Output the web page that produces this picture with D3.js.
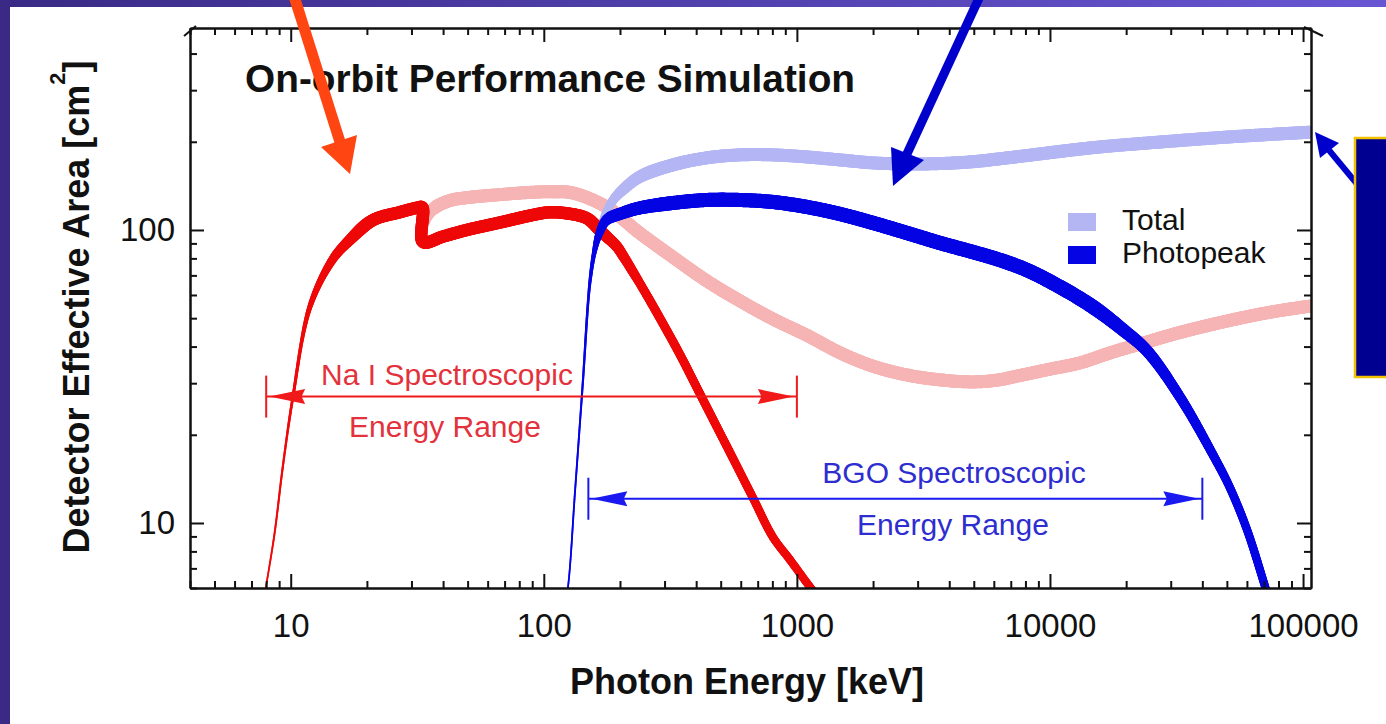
<!DOCTYPE html>
<html>
<head>
<meta charset="utf-8">
<script src="https://cdn.jsdelivr.net/npm/d3@7"></script>
<style>
  html, body { margin: 0; padding: 0; background: #ffffff; }
  svg { display: block; font-family: "Liberation Sans", Arial, Helvetica, sans-serif; }
</style>
</head>
<body>
<svg id="chart" width="1386" height="724"></svg>
<script>
// Photon energy in keV, detector effective area in cm^2

// NaI photopeak
const naiPhotoE = [7.8, 8.6, 9.3, 10.2, 11.9, 14.6, 17.1, 21.1, 27.0, 31.5,
                   33.1, 33.3, 40, 49.6, 67, 90.5, 106, 123, 143, 152,
                   166, 177, 194, 205, 239, 280, 345, 403, 466, 544,
                   670, 804, 938, 1125, 1250];
const naiPhotoA = [5.4, 9.0, 15.5, 26.9, 54.6, 79, 92.4, 108, 115, 119,
                   119.5, 91, 95, 100, 106, 112.5, 115, 114, 111, 108,
                   100, 95, 88, 82, 66, 52.1, 37.6, 28.9, 22.6, 17.4,
                   12.2, 8.95, 7.5, 6.06, 5.4];

// NaI total
const naiTotalE = [33.4, 35, 37, 42.5, 50, 67, 90, 110, 130, 177,
                   239, 323, 441, 595, 804, 1096, 1480, 1997, 2722, 3675,
                   5000, 6300, 7145, 10000, 13150, 18000, 23350, 32000, 50100, 75000,
                   107000];
const naiTotalA = [100, 112, 119, 126, 129, 132, 134.5, 135, 133.8, 119.8,
                   97.7, 80.9, 67.0, 57.3, 49.7, 43.7, 38.1, 34.3, 32.0, 30.8,
                   30.3, 30.8, 31.5, 33.5, 35.2, 38.5, 41.1, 44.5, 48.9, 52.5,
                   55];

// BGO photopeak
const bgoPhotoE = [118, 124.5, 133, 142.6, 152, 159, 166, 177, 205, 239,
                   323, 441, 595, 804, 1096, 1480, 2000, 2720, 3675, 4960,
                   6340, 8110, 10960, 14800, 19450, 24170, 32640, 44060, 51400, 60100,
                   70800, 76000];
const bgoPhotoA = [4.6, 6.0, 13, 30.1, 65.9, 85.4, 97.7, 108.2, 114.3, 118.9,
                   123.6, 126.6, 126.6, 124.6, 119.8, 113.4, 105.7, 97.7, 90.3, 84.1,
                   79, 73, 63.9, 54.6, 45.6, 38.7, 26.9, 17.1, 13.2, 9.47,
                   6.06, 4.95];

// BGO total
const bgoTotalE = [159, 166, 177, 190, 205, 239, 323, 441, 595, 804,
                   1096, 1480, 2000, 2700, 3675, 4960, 6340, 8110, 14800, 27200,
                   50100, 107000];
const bgoTotalA = [85.4, 100, 116, 128, 137, 151.8, 166.7, 176.3, 180.4, 180.4,
                   177.5, 173.4, 169.4, 168, 168.5, 171, 175, 179.5, 191, 199.6,
                   207.5, 215.7];

// Axis ticks
const xMajorTicks = [10, 100, 1000, 10000, 100000];
const xTickLabels = ["10", "100", "1000", "10000", "100000"];
const yMajorTicks = [10, 100];
const yTickLabels = ["10", "100"];

// Spectroscopic energy ranges (keV) and the area level where each is marked
const naiRange = [8, 1000];
const naiRangeLevel = 27;
const bgoRange = [150, 40000];
const bgoRangeLevel = 12.1;

const legendLabels = ["Total", "Photopeak"];

// ---------------------------------------------------------------------------
const svg = d3.select("#chart");
const W = 1386, H = 724;
const plotL = 190, plotR = 1311, plotT = 28, plotB = 588;

const colors = {
  naiPhoto: "#ee0808",
  naiTotal: "#f6b4b4",
  bgoPhoto: "#0404e4",
  bgoTotal: "#b4b6f4",
  ink: "#111111"
};

const x = d3.scaleLog().domain([4, 107500]).range([plotL, plotR]);
const y = d3.scaleLog().domain([6, 489]).range([plotB, plotT]);

// slide background
const defs = svg.append("defs");
const grad = defs.append("linearGradient").attr("id", "topbar")
  .attr("x1", "0%").attr("x2", "100%").attr("y1", "0%").attr("y2", "0%");
grad.append("stop").attr("offset", "0%").attr("stop-color", "#3a2a86");
grad.append("stop").attr("offset", "100%").attr("stop-color", "#6656d2");

svg.append("rect").attr("width", W).attr("height", H).attr("fill", "#ffffff");
svg.append("rect").attr("x", 0).attr("y", 0).attr("width", W).attr("height", 7).attr("fill", "url(#topbar)");
svg.append("rect").attr("x", 0).attr("y", 0).attr("width", 10).attr("height", H).attr("fill", "#3a2a86");

defs.append("clipPath").attr("id", "plotClip")
  .append("rect").attr("x", plotL).attr("y", plotT)
  .attr("width", plotR - plotL).attr("height", plotB - plotT);

const plot = svg.append("g").attr("clip-path", "url(#plotClip)");

// Draws a curve as a band whose thickness varies with energy
function drawBand(E, A, color, stops) {
  const pts = E.map((e, i) => [x(e), y(A[i])]);
  const d = d3.line().curve(d3.curveCatmullRom.alpha(0.5))(pts);
  const tmp = plot.append("path").attr("d", d).attr("fill", "none").attr("stroke", "none");
  const node = tmp.node();
  const L = node.getTotalLength();
  const samples = [];
  for (let s = 0; s < L; s += 1.5) {
    const p = node.getPointAtLength(s);
    samples.push([p.x, p.y]);
  }
  const pe = node.getPointAtLength(L);
  samples.push([pe.x, pe.y]);
  tmp.remove();

  const widthAt = d3.scaleLinear()
    .domain(stops.map(s => Math.log10(s[0])))
    .range(stops.map(s => s[1]))
    .clamp(true);

  const g = plot.append("g")
    .attr("stroke", color)
    .attr("stroke-linecap", "round");
  for (let i = 0; i < samples.length - 1; i++) {
    const a = samples[i], b = samples[i + 1];
    const e = x.invert((a[0] + b[0]) / 2);
    g.append("line")
      .attr("x1", a[0]).attr("y1", a[1])
      .attr("x2", b[0]).attr("y2", b[1])
      .attr("stroke-width", widthAt(Math.log10(e)));
  }
}

drawBand(naiTotalE, naiTotalA, colors.naiTotal, [[33.4, 7], [37, 13], [110000, 13]]);
drawBand(bgoTotalE, bgoTotalA, colors.bgoTotal, [[159, 4], [177, 8], [205, 11], [260, 13], [110000, 13]]);
drawBand(naiPhotoE, naiPhotoA, colors.naiPhoto,
  [[7.8, 1.6], [9.5, 2.2], [11, 3.5], [12.5, 6], [15, 9], [19, 12.5], [160, 12.5], [240, 9], [1300, 8]]);
drawBand(bgoPhotoE, bgoPhotoA, colors.bgoPhoto,
  [[118, 1.6], [140, 2], [150, 2.6], [158, 4.5], [166, 8], [185, 12], [300, 14],
   [15000, 14.5], [30000, 10.5], [50000, 8.5], [80000, 8]]);

// Axes
const xMinor = x.ticks().filter(v => Math.abs(Math.log10(v) - Math.round(Math.log10(v))) > 1e-6);
const yMinor = y.ticks().filter(v => Math.abs(Math.log10(v) - Math.round(Math.log10(v))) > 1e-6);

function styleAxis(g) {
  g.select(".domain").attr("stroke", colors.ink).attr("stroke-width", 2);
  g.selectAll(".tick line").attr("stroke", colors.ink).attr("stroke-width", 2);
  g.selectAll(".tick text").attr("fill", colors.ink)
    .attr("font-size", 33).attr("font-family", "'Liberation Sans', Arial, sans-serif");
}

const axes = svg.append("g");
axes.append("g").attr("transform", `translate(0,${plotB})`)
  .call(d3.axisBottom(x).tickValues(xMinor).tickFormat("").tickSizeInner(-7).tickSizeOuter(0)).call(styleAxis);
axes.append("g").attr("transform", `translate(0,${plotB})`)
  .call(d3.axisBottom(x).tickValues(xMajorTicks).tickFormat((d, i) => xTickLabels[i])
    .tickSizeInner(-14).tickSizeOuter(0).tickPadding(26)).call(styleAxis);

axes.append("g").attr("transform", `translate(0,${plotT})`)
  .call(d3.axisTop(x).tickValues(xMinor).tickFormat("").tickSizeInner(-7).tickSizeOuter(0)).call(styleAxis);
axes.append("g").attr("transform", `translate(0,${plotT})`)
  .call(d3.axisTop(x).tickValues(xMajorTicks).tickFormat("").tickSizeInner(-14).tickSizeOuter(0)).call(styleAxis);

axes.append("g").attr("transform", `translate(${plotL},0)`)
  .call(d3.axisLeft(y).tickValues(yMinor).tickFormat("").tickSizeInner(-7).tickSizeOuter(0)).call(styleAxis);
axes.append("g").attr("transform", `translate(${plotL},0)`)
  .call(d3.axisLeft(y).tickValues(yMajorTicks).tickFormat((d, i) => yTickLabels[i])
    .tickSizeInner(-14).tickSizeOuter(0).tickPadding(15)).call(styleAxis);

axes.append("g").attr("transform", `translate(${plotR},0)`)
  .call(d3.axisRight(y).tickValues(yMinor).tickFormat("").tickSizeInner(-7).tickSizeOuter(0)).call(styleAxis);
axes.append("g").attr("transform", `translate(${plotR},0)`)
  .call(d3.axisRight(y).tickValues(yMajorTicks).tickFormat("").tickSizeInner(-14).tickSizeOuter(0)).call(styleAxis);

// axis break marks at the top corners
axes.append("line").attr("x1", plotL - 6).attr("y1", plotT + 8).attr("x2", plotL + 6).attr("y2", plotT - 2)
  .attr("stroke", colors.ink).attr("stroke-width", 2);
axes.append("line").attr("x1", plotR - 7).attr("y1", plotT - 1).attr("x2", plotR + 12).attr("y2", plotT + 8)
  .attr("stroke", colors.ink).attr("stroke-width", 2);

// Axis titles
svg.append("text")
  .attr("x", 747).attr("y", 694)
  .attr("text-anchor", "middle")
  .attr("font-size", 36).attr("font-weight", "bold").attr("fill", colors.ink)
  .text("Photon Energy [keV]");

const yTitle = svg.append("text")
  .attr("transform", "translate(89,307) rotate(-90)")
  .attr("text-anchor", "middle")
  .attr("font-size", 36).attr("font-weight", "bold").attr("fill", colors.ink);
yTitle.append("tspan").text("Detector Effective Area [cm");
yTitle.append("tspan").attr("font-size", 22).attr("dy", -24).text("2");
yTitle.append("tspan").attr("dy", 24).text("]");

// Chart title
svg.append("text")
  .attr("x", 245).attr("y", 92)
  .attr("font-size", 38.8).attr("font-weight", "bold").attr("fill", colors.ink)
  .text("On-orbit Performance Simulation");

// Legend
const legend = svg.append("g");
const legendColors = [colors.bgoTotal, colors.bgoPhoto];
const legendY = [213, 246];
legendLabels.forEach((lab, i) => {
  legend.append("rect").attr("x", 1068).attr("y", legendY[i]).attr("width", 28).attr("height", 18)
    .attr("fill", legendColors[i]);
  legend.append("text").attr("x", 1122).attr("y", legendY[i] + 17)
    .attr("font-size", 30).attr("fill", colors.ink).text(lab);
});

// Spectroscopic range markers
function rangeMarker(range, level, lineColor, textColor, lines, textX, textYs) {
  const g = svg.append("g");
  const x0 = x(range[0]), x1 = x(range[1]), yy = y(level);
  g.append("line").attr("x1", x0).attr("x2", x1).attr("y1", yy).attr("y2", yy)
    .attr("stroke", lineColor).attr("stroke-width", 2);
  [x0, x1].forEach(xx => {
    g.append("line").attr("x1", xx).attr("x2", xx).attr("y1", yy - 21).attr("y2", yy + 21)
      .attr("stroke", lineColor).attr("stroke-width", 2);
  });
  const hl = 36, hw = 7.5;
  g.append("path").attr("fill", lineColor)
    .attr("d", `M${x0 + 3},${yy} L${x0 + 3 + hl},${yy - hw} L${x0 + 3 + hl * 0.9},${yy} L${x0 + 3 + hl},${yy + hw} Z`);
  g.append("path").attr("fill", lineColor)
    .attr("d", `M${x1 - 3},${yy} L${x1 - 3 - hl},${yy - hw} L${x1 - 3 - hl * 0.9},${yy} L${x1 - 3 - hl},${yy + hw} Z`);
  lines.forEach((t, i) => {
    g.append("text").attr("x", textX[i]).attr("y", textYs[i])
      .attr("text-anchor", "middle").attr("font-size", 30).attr("fill", textColor).text(t);
  });
}

rangeMarker(naiRange, naiRangeLevel, "#f01a1a", "#e3323c",
  ["Na I Spectroscopic", "Energy Range"], [447, 445], [385, 437]);
rangeMarker(bgoRange, bgoRangeLevel, "#1a1af0", "#2e2ed0",
  ["BGO Spectroscopic", "Energy Range"], [954, 953], [483, 535]);

// Slide call-out arrows and side panel
const ann = svg.append("g");
ann.append("line").attr("x1", 294).attr("y1", -4).attr("x2", 340).attr("y2", 142)
  .attr("stroke", "#ff4512").attr("stroke-width", 11);
ann.append("polygon").attr("points", "350,174 321,147 357,135").attr("fill", "#ff4512");

ann.append("line").attr("x1", 980).attr("y1", -4).attr("x2", 906).attr("y2", 156)
  .attr("stroke", "#0000cc").attr("stroke-width", 9);
ann.append("polygon").attr("points", "893,186 891,147 924,160").attr("fill", "#0000cc");

ann.append("line").attr("x1", 1328).attr("y1", 149).attr("x2", 1362).attr("y2", 190)
  .attr("stroke", "#0000cc").attr("stroke-width", 6);
ann.append("polygon").attr("points", "1315,132 1320,158 1339,143").attr("fill", "#0000cc");

ann.append("rect").attr("x", 1355).attr("y", 138).attr("width", 45).attr("height", 239)
  .attr("fill", "#000090").attr("stroke", "#f2c200").attr("stroke-width", 2.5);
</script>
</body>
</html>
